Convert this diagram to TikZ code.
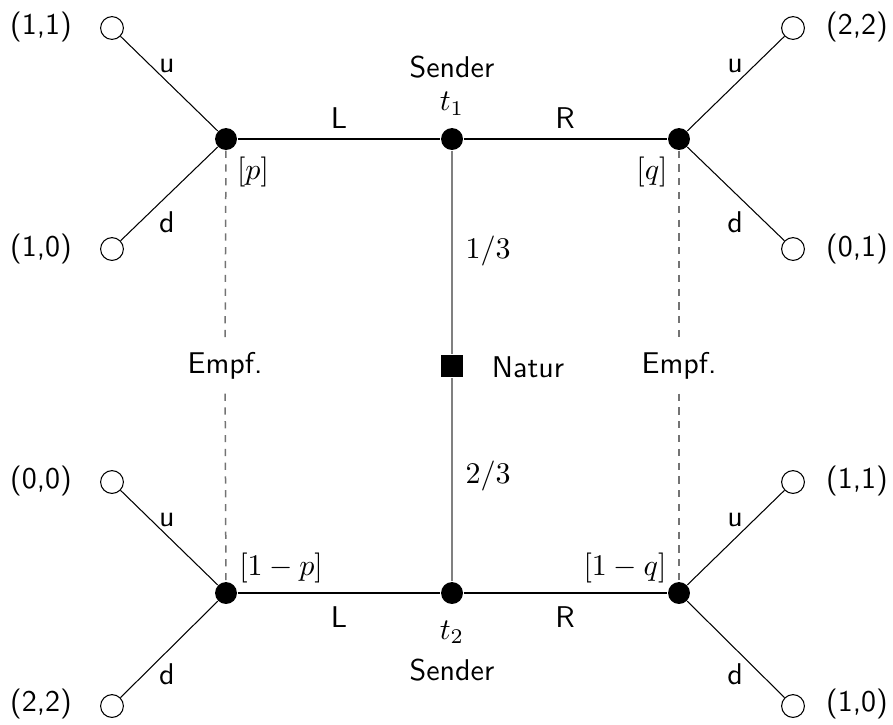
\documentclass[tikz,border=0pt]{standalone}
\begin{document}
\begin{tikzpicture}[x=0.3333pt,y=-0.3333pt,
  dec/.style={circle,fill=black,inner sep=0pt,minimum size=7.3pt},
  term/.style={circle,draw=black,fill=white,inner sep=0pt,minimum size=7.6pt,line width=0.35pt},
  chance/.style={rectangle,fill=black,inner sep=0pt,minimum size=7.6pt},
  lbl/.style={font=\sffamily,inner sep=0pt},
  mlbl/.style={inner sep=0pt},
  branch/.style={line width=0.35pt},
  move/.style={line width=0.5pt},
  natline/.style={line width=0.6pt,draw=black!50},
  info/.style={line width=0.5pt,draw=black!55,dash pattern=on 2.4pt off 2.2pt},
  infolbl/.style={font=\sffamily,inner xsep=1pt,inner ysep=4.5pt}]
\useasboundingbox (0,0) rectangle (893,724);

% decision nodes
\node[dec] (pt) at (226,139) {};
\node[dec] (t1) at (452,139) {};
\node[dec] (qt) at (679,139) {};
\node[dec] (pb) at (226,593) {};
\node[dec] (t2) at (452,593) {};
\node[dec] (qb) at (679,593) {};
\node[chance] (nat) at (452,366) {};

% terminal nodes
\node[term] (z11) at (112,28) {};
\node[term] (z10) at (112,249) {};
\node[term] (z22) at (793,28) {};
\node[term] (z01) at (793,249) {};
\node[term] (z00) at (112,482) {};
\node[term] (z22b) at (112,706) {};
\node[term] (z11b) at (793,482) {};
\node[term] (z10b) at (793,706) {};

% payoffs
\node[lbl] (a11) at (41,27) {(1,1)};
\node[lbl] (a10) at (41,249) {(1,0)};
\node[lbl] (a00) at (41,481) {(0,0)};
\node[lbl] (a22b) at (41,704) {(2,2)};
\node[lbl] (a22) at (857,27) {(2,2)};
\node[lbl] (a01) at (857,249) {(0,1)};
\node[lbl] (a11b) at (857,481) {(1,1)};
\node[lbl] (a10b) at (857,704) {(1,0)};

% information sets of the receiver
\node[infolbl] (eL) at (225,366) {Empf.};
\node[infolbl] (eR) at (679,366) {Empf.};
\draw[info] (pt) -- (eL) -- (pb);
\draw[info] (qt) -- (eR) -- (qb);

% nature
\draw[natline] (t1) -- (nat) -- (t2);

% sender moves
\draw[move] (pt) -- (t1) -- (qt);
\draw[move] (pb) -- (t2) -- (qb);

% receiver moves
\draw[branch] (pt) -- (z11);
\draw[branch] (pt) -- (z10);
\draw[branch] (qt) -- (z22);
\draw[branch] (qt) -- (z01);
\draw[branch] (pb) -- (z00);
\draw[branch] (pb) -- (z22b);
\draw[branch] (qb) -- (z11b);
\draw[branch] (qb) -- (z10b);

% move labels
\node[lbl] (u1) at (167,66) {u};
\node[lbl] (d1) at (167,222) {d};
\node[lbl] (u2) at (735,66) {u};
\node[lbl] (d2) at (735,222) {d};
\node[lbl] (u3) at (167,520) {u};
\node[lbl] (d3) at (167,674) {d};
\node[lbl] (u4) at (735,520) {u};
\node[lbl] (d4) at (735,674) {d};
\node[lbl] (L1) at (339,118) {L};
\node[lbl] (R1) at (565,118) {R};
\node[lbl] (L2) at (339,617) {L};
\node[lbl] (R2) at (565,617) {R};

% sender types
\node[lbl] (s1) at (452,67) {Sender};
\node[mlbl] (tt1) at (452,104) {$t_1$};
\node[mlbl] (tt2) at (452,632) {$t_2$};
\node[lbl] (s2) at (452,670) {Sender};

% beliefs
\node[mlbl] (bp) at (253,172) {$[p]$};
\node[mlbl] (bq) at (652,172) {$[q]$};
\node[mlbl] (b1p) at (281,568) {$[1-p]$};
\node[mlbl] (b1q) at (625,568) {$[1-q]$};

% probabilities of nature
\node[mlbl] (pr1) at (488,251) {$1/3$};
\node[mlbl] (pr2) at (488,476) {$2/3$};
\node[lbl] (natl) at (528,367) {Natur};
\end{tikzpicture}
\end{document}
